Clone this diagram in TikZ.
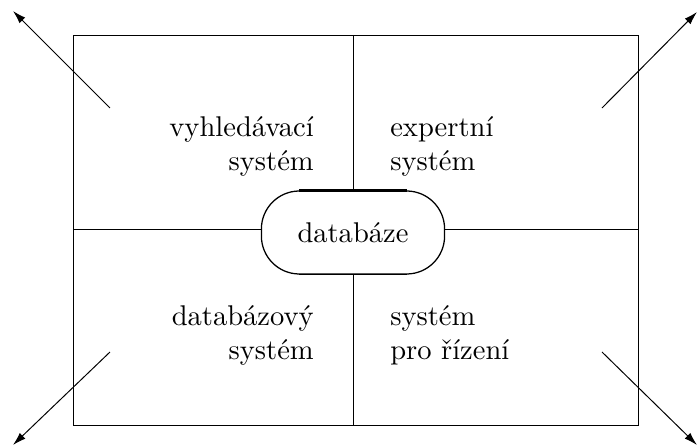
\documentclass[tikz,border=0pt]{standalone}
\usepackage{fontspec}
\usepackage{tikz}
\usetikzlibrary{arrows.meta}
\newfontfamily\diagfont{lmroman10-regular}[Extension=.otf]
\pgfdeclarelayer{edgelayer}
\pgfdeclarelayer{nodelayer}
\pgfsetlayers{edgelayer,nodelayer,main}
\tikzstyle{none} = [inner sep=0pt]
\tikzstyle{label left} = [inner sep=0pt, anchor=base east, align=right, font=\diagfont\fontsize{20.3}{24.5}\selectfont]
\tikzstyle{label right} = [inner sep=0pt, anchor=base west, align=left, font=\diagfont\fontsize{20.3}{24.5}\selectfont]
\tikzstyle{db box} = [draw, line width=0.9pt, rounded corners=0.95cm, minimum width=4.58cm, minimum height=2.075cm, inner sep=0pt, font=\diagfont\fontsize{20.3}{24.5}\selectfont]
\tikzstyle{frame edge} = [line width=0.7pt]
\tikzstyle{top edge} = [line width=1.8pt]
\tikzstyle{bottom edge} = [line width=1.2pt]
\tikzstyle{out arrow} = [line width=0.7pt, -{Latex[length=0.33cm, width=0.2cm]}]

\begin{document}
\begin{tikzpicture}
	\useasboundingbox (-8.825, -5.475) rectangle (8.625, 5.725);
	\begin{pgfonlayer}{nodelayer}
		\node [style=db box] (db) at (0, -0.0875) {databáze};
		\coordinate (0) at (-7, 4.85);
		\coordinate (1) at (7.125, 4.85);
		\coordinate (2) at (7.125, -4.9);
		\coordinate (3) at (-7, -4.9);
		\coordinate (4) at (0, 4.85);
		\coordinate (5) at (0, -4.9);
		\coordinate (6) at (-7, 0);
		\coordinate (7) at (7.125, 0);
		\coordinate (8) at (-6.075, 3.025);
		\coordinate (9) at (-8.5, 5.45);
		\coordinate (10) at (6.225, 3.025);
		\coordinate (11) at (8.6, 5.425);
		\coordinate (12) at (-6.075, -3.075);
		\coordinate (13) at (-8.5, -5.4);
		\coordinate (14) at (6.225, -3.075);
		\coordinate (15) at (8.6, -5.4);
		\node [style=label left] (16) at (-0.975, 1.45) {vyhledávací\\systém};
		\node [style=label right] (17) at (0.925, 1.45) {expertní\\systém};
		\node [style=label left] (18) at (-0.975, -3.275) {databázový\\systém};
		\node [style=label right] (19) at (0.925, -3.275) {systém\\pro řízení};
	\end{pgfonlayer}
	\begin{pgfonlayer}{edgelayer}
		\draw [style=frame edge] (0) -- (1) -- (2) -- (3) -- cycle;
		\draw [style=frame edge] (4) to (db.north);
		\draw [style=frame edge] (db.south) to (5);
		\draw [style=frame edge] (6) to (6 -| db.west);
		\draw [style=frame edge] (7 -| db.east) to (7);
		\draw [style=out arrow] (8) to (9);
		\draw [style=out arrow] (10) to (11);
		\draw [style=out arrow] (12) to (13);
		\draw [style=out arrow] (14) to (15);
	\end{pgfonlayer}
	\draw [style=top edge] ([xshift=0.95cm]db.north west) to ([xshift=-0.95cm]db.north east);
	\draw [style=bottom edge] ([xshift=0.95cm]db.south west) to ([xshift=-0.95cm]db.south east);
\end{tikzpicture}
\end{document}
